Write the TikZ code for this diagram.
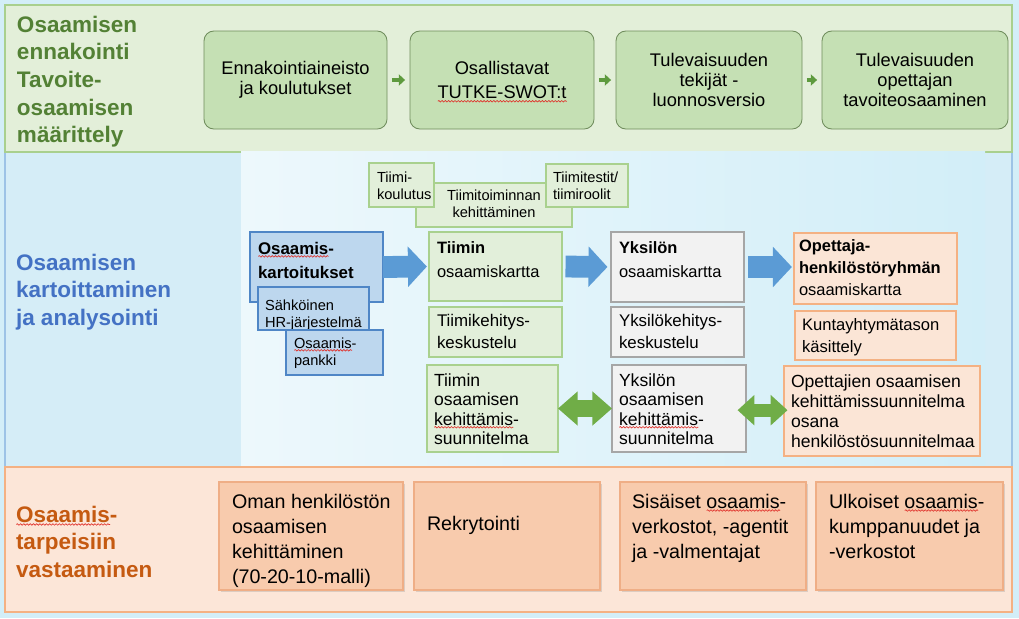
\documentclass[tikz,border=0pt]{standalone}
\usepackage{fontspec}
\setmainfont{Liberation Sans}
\usetikzlibrary{fit,arrows.meta,decorations.pathmorphing,shadows}

\definecolor{bgblue}{HTML}{D3EEF8}
\definecolor{topfill}{HTML}{E3EFD9}
\definecolor{topborder}{HTML}{A9D08E}
\definecolor{tbfill}{HTML}{C5E0B4}
\definecolor{tbborder}{HTML}{6F8C5C}
\definecolor{hgreen}{HTML}{538135}
\definecolor{hblue}{HTML}{4472C4}
\definecolor{horange}{HTML}{C55A11}
\definecolor{midfill}{HTML}{D5EDF7}
\definecolor{midborder}{HTML}{9DC3E6}
\definecolor{imgL}{HTML}{EDF8FC}
\definecolor{imgR}{HTML}{D2EEF8}
\definecolor{lgfill}{HTML}{E2EFDA}
\definecolor{lgborder}{HTML}{A9D18E}
\definecolor{gyfill}{HTML}{F2F2F2}
\definecolor{gyborder}{HTML}{A6A6A6}
\definecolor{lofill}{HTML}{FBE5D6}
\definecolor{loborder}{HTML}{F4B183}
\definecolor{bxfill}{HTML}{BDD7EE}
\definecolor{bxborder}{HTML}{4F86C6}
\definecolor{arrblue}{HTML}{5B9BD5}
\definecolor{arrgreen}{HTML}{70AD47}
\definecolor{smallarr}{HTML}{5E9A3E}
\definecolor{botfill}{HTML}{FCE6D8}
\definecolor{botborder}{HTML}{F4B183}
\definecolor{obfill}{HTML}{F8CBAD}
\definecolor{obborder}{HTML}{EFAE86}
\definecolor{spellred}{HTML}{E0302A}

\newcommand\fs[2]{\fontsize{#1pt}{#2pt}\selectfont}
\newdimen\spw
\newcommand\spell[1]{\setbox0=\hbox{#1}\spw=\wd0\rlap{\raisebox{-2.4pt}[0pt][0pt]{\tikz\draw[spellred, line width=0.45pt, decorate, decoration={snake, amplitude=0.55pt, segment length=2.3pt}] (0pt,0pt) -- (\the\spw,0pt);}}\box0}

\tikzset{
  box/.style={inner sep=0pt, outer sep=0pt},
  topbox/.style={box, draw=tbborder, fill=tbfill, line width=0.6pt, rounded corners=7pt},
  toptext/.style={inner sep=0pt, outer sep=0pt, anchor=center, align=center, font=\fs{13}{14.5}},
  greenbox/.style={box, draw=lgborder, fill=lgfill, line width=1.3pt},
  graybox/.style={box, draw=gyborder, fill=gyfill, line width=1.3pt},
  orbox/.style={box, draw=loborder, fill=lofill, line width=1.3pt},
  bluebox/.style={box, draw=bxborder, fill=bxfill, line width=1.3pt},
  botbox/.style={box, draw=obborder, fill=obfill, line width=1pt, drop shadow={shadow xshift=1.2pt, shadow yshift=-1.2pt, opacity=0.25}},
  txt/.style={inner sep=0pt, outer sep=0pt, anchor=base west, align=left},
  heading/.style={txt, font=\bfseries\fs{16}{19.6}},
  smallarrow/.style={draw=smallarr, line width=3.5pt, -{Triangle[width=8pt,length=4.5pt]}, shorten <=3.5pt, shorten >=3.5pt},
  bigarrow/.style={draw=arrblue, line width=15.5pt, -{Triangle[width=28pt,length=13.5pt]}},
  dblarrow/.style={draw=arrgreen, line width=12pt, {Triangle[width=23.5pt,length=14pt]}-{Triangle[width=23.5pt,length=14pt]}},
  dblarrowsm/.style={draw=arrgreen, line width=9.5pt, {Triangle[width=21pt,length=12pt]}-{Triangle[width=21pt,length=12pt]}}
}

\begin{document}
\begin{tikzpicture}[x=0.025cm, y=-0.025cm]
\useasboundingbox (0,0) rectangle (1019,618);
\fill[bgblue] (0,0) rectangle (1019,618);

% sections
\fill[midfill] (5,152) rectangle (1012,467);
\draw[midborder, line width=1.2pt] (5,152) -- (5,467);
\draw[midborder, line width=1.2pt] (1012,152) -- (1012,467);
\fill[topfill] (5,5) rectangle (1012,152);
\draw[topborder, line width=1.5pt] (5,5) rectangle (1012,152);
\shade[left color=imgL, right color=imgR] (241,151) rectangle (985,467);
\fill[botfill] (5,467) rectangle (1012,612);
\draw[botborder, line width=1.5pt] (5,467) rectangle (1012,612);

% headings (anchor = baseline of the last line)
\node[heading, text=hgreen] (h1) at (17,142.6) {Osaamisen\\ennakointi\\Tavoite-\\osaamisen\\määrittely};
\node[heading, text=hblue] (h2) at (16,325.3) {Osaamisen\\kartoittaminen\\ja analysointi};
\node[heading, text=horange] (h3) at (16,577.3) {\spell{Osaamis}-\\tarpeisiin\\vastaaminen};

% top row
\node[topbox, fit={(204,31)(387,129)}] (t1) {};
\node[toptext] (t1T) at (t1.center) {Ennakointiaineisto\\ja koulutukset};
\node[topbox, fit={(410,31)(594,129)}] (t2) {};
\node[toptext, font=\fs{13}{17.7}] (t2T) at (t2.center) {Osallistavat\\\spell{TUTKE-SWOT:t}};
\node[topbox, fit={(616,31)(802,129)}] (t3) {};
\node[toptext] (t3T) at (t3.center) {Tulevaisuuden\\tekijät -\\luonnosversio};
\node[topbox, fit={(822,31)(1008,129)}] (t4) {};
\node[toptext] (t4T) at (t4.center) {Tulevaisuuden\\opettajan\\tavoiteosaaminen};
\draw[smallarrow] (t1) -- (t2);
\draw[smallarrow] (t2) -- (t3);
\draw[smallarrow] (t3) -- (t4);

% team development boxes
\node[greenbox, line width=1pt, fit={(416,183)(572,227)}] (tt) {};
\node[txt, anchor=base, align=center, font=\fs{10.4}{12}] (ttT) at (494,217) {Tiimitoiminnan\\kehittäminen};
\node[greenbox, line width=1pt, fit={(369,163)(434,207)}] (tk) {};
\node[txt, font=\fs{10.4}{12}] (tkT) at (377,199) {Tiimi-\\koulutus};
\node[greenbox, line width=1pt, fit={(546,164)(628,207)}] (tr) {};
\node[txt, font=\fs{10.4}{12}] (trT) at (553,199) {Tiimitestit/\\tiimiroolit};

% blue mapping boxes
\node[bluebox, fit={(250,232)(383,302)}] (kart) {};
\node[txt, font=\bfseries\fs{12}{17}] (kartT) at (258,278) {\spell{Osaamis}-\\kartoitukset};
\node[bluebox, fit={(258,287)(369,330)}] (hr) {};
\node[txt, font=\fs{10.4}{12}] (hrT) at (265,327) {Sähköinen\\HR-järjestelmä};
\node[bluebox, fit={(286,330)(383,375)}] (pankki) {};
\node[txt, font=\fs{10.4}{12.5}] (pankkiT) at (294,365.6) {\spell{Osaamis}-\\pankki};

% row 1
\node[greenbox, fit={(429,232)(562,301)}] (tim) {};
\node[txt, font=\fs{11.7}{17.5}] (timT) at (437,277.7) {\textbf{Tiimin}\\osaamiskartta};
\node[graybox, fit={(611,232)(744,302)}] (yks) {};
\node[txt, font=\fs{11.7}{17.5}] (yksT) at (619,277.7) {\textbf{Yksilön}\\osaamiskartta};
\node[orbox, fit={(794,233)(957,304)}] (opm) {};
\node[txt, font=\fs{11.7}{15.6}] (opmT) at (799,295) {\textbf{Opettaja-}\\\textbf{henkilöstöryhmän}\\osaamiskartta};
\draw[bigarrow, shorten >=1.5pt] (kart.east) -- (tim.west);
\draw[bigarrow, shorten <=2.5pt, shorten >=2.5pt] (tim.east) -- (yks.west);
\draw[bigarrow, shorten <=3pt, shorten >=1.5pt] (yks.east) -- (yks.east -| opm.west);

% row 2
\node[greenbox, fit={(429,307)(562,357)}] (tkk) {};
\node[txt, font=\fs{12}{15}] (tkkT) at (437,348) {Tiimikehitys-\\keskustelu};
\node[graybox, fit={(611,307)(744,357)}] (ykk) {};
\node[txt, font=\fs{12}{15}] (ykkT) at (619,348) {Yksilökehitys-\\keskustelu};
\node[orbox, fit={(795,311)(956,360)}] (kun) {};
\node[txt, font=\fs{11.8}{15}] (kunT) at (802,352) {Kuntayhtymätason\\käsittely};

% row 3
\node[greenbox, fit={(427,365)(558,452)}] (tks) {};
\node[txt, font=\fs{12.5}{13.8}] (tksT) at (434,444.4) {Tiimin\\osaamisen\\\spell{kehittämis}-\\suunnitelma};
\node[graybox, fit={(612,365)(746,452)}] (yks3) {};
\node[txt, font=\fs{12.5}{13.8}] (yks3T) at (619,444.4) {Yksilön\\osaamisen\\\spell{kehittämis}-\\suunnitelma};
\node[orbox, fit={(784,366)(980,456)}] (ops) {};
\node[txt, font=\fs{12.5}{14.2}] (opsT) at (791,447) {Opettajien osaamisen\\kehittämissuunnitelma\\osana\\henkilöstösuunnitelmaa};
\draw[dblarrow] (tks.east) -- (yks3.west);
\draw[dblarrowsm] ([xshift=-6pt,yshift=-1.2pt]yks3.east) -- ([xshift=2.5pt,yshift=-1.2pt]yks3.east -| ops.west);

% bottom boxes
\node[botbox, fit={(219,482)(403,590)}] (b1) {};
\node[txt, font=\fs{14}{17.7}] (b1T) at (232,583) {Oman henkilöstön\\osaamisen\\kehittäminen\\(70-20-10-malli)};
\node[botbox, fit={(414,482)(600,590)}] (b2) {};
\node[txt, font=\fs{14}{17.7}] (b2T) at (427,530) {Rekrytointi};
\node[botbox, fit={(620,482)(806,590)}] (b3) {};
\node[txt, font=\fs{14}{17.7}] (b3T) at (632,558) {Sisäiset \spell{osaamis}-\\verkostot, -agentit\\ja -valmentajat};
\node[botbox, fit={(816,482)(1003,590)}] (b4) {};
\node[txt, font=\fs{14}{17.7}] (b4T) at (829,558) {Ulkoiset \spell{osaamis}-\\kumppanuudet ja\\-verkostot};
\end{tikzpicture}
\end{document}
